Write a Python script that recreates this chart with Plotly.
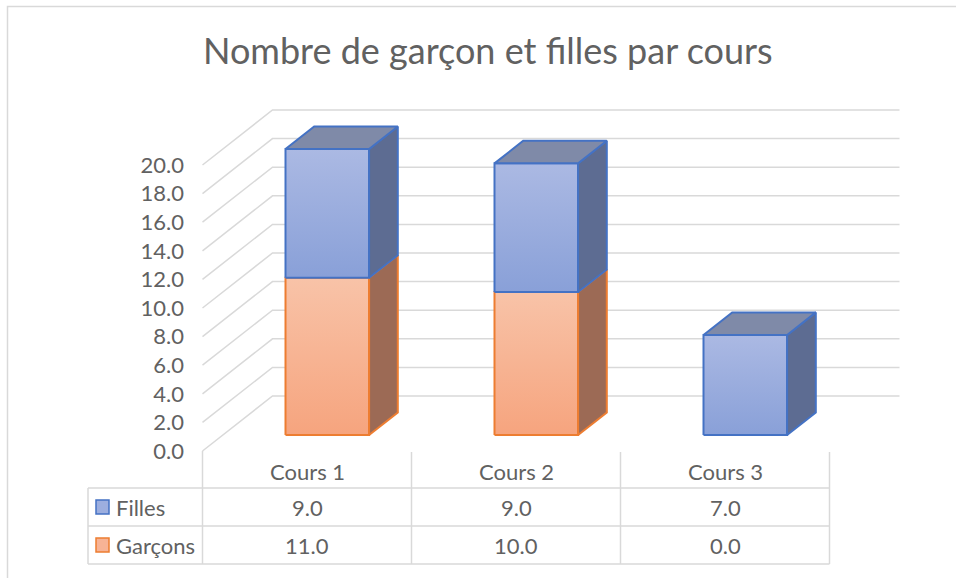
import plotly.graph_objects as go

# ---------------- data ----------------
categories = ["Cours 1", "Cours 2", "Cours 3"]
garcons = [11.0, 10.0, 0.0]
filles = [9.0, 9.0, 7.0]
y_ticks = [0, 2, 4, 6, 8, 10, 12, 14, 16, 18, 20]
title_text = "Nombre de garçon et filles par cours"

# ---------------- geometry / style ----------------
W, H = 956, 578
CAT_PX = 209.0      # width of one category in pixels
X0_PX = 202.5       # left edge of front floor in pixels
Y0_PX = 451.0       # value 0 on the front plane in pixels
VAL_PX = 14.3       # pixels per value unit
DX = 70.0 / CAT_PX  # full depth offset in x (category units)
DY = 55.0 / VAL_PX  # full depth offset in y (value units)
D0, D1 = 0.29, 0.70 # bar depth extent (fraction of floor depth)
BAR_W = 0.40

FONT = "Lato"
TXT = "#616161"
GRID = "#d9d9d9"

x_range = [-0.5 - X0_PX / CAT_PX, -0.5 - X0_PX / CAT_PX + W / CAT_PX]
y_range = [-(H - Y0_PX) / VAL_PX, Y0_PX / VAL_PX]


def pxx(p):
    return p / W


def pxy(p):
    return 1 - p / H


series = [
    dict(name="Garçons", values=garcons, edge="#ed7d31",
         front=("#f6a47e", "#f8c3a8"), key="#f7b395",
         side="#9c6a55", top="#a87a66"),
    dict(name="Filles", values=filles, edge="#4472c4",
         front=("#89a0d8", "#abb9e3"), key="#9caedf",
         side="#5d6c92", top="#7f8aa8"),
]

fig = go.Figure()

# ---------------- back wall gridlines ----------------
gx, gy = [], []
for v in y_ticks:
    gx += [-0.5, -0.5 + DX, len(categories) - 0.5 + DX, None]
    gy += [v, v + DY, v + DY, None]
fig.add_trace(go.Scatter(x=gx, y=gy, mode="lines",
                         line=dict(color=GRID, width=1.5),
                         hoverinfo="skip", showlegend=False))

# ---------------- 3D stacked columns ----------------
n_series = len(series)
for i, cat in enumerate(categories):
    last_nonzero = max([k for k in range(n_series) if series[k]["values"][i] > 0], default=-1)
    base = 0.0
    for k, s in enumerate(series):
        val = s["values"][i]
        b, t = base, base + val
        base = t
        if val <= 0:
            continue
        xl = i - BAR_W / 2 + D0 * DX
        xr = i + BAR_W / 2 + D0 * DX
        yb = b + D0 * DY
        yt = t + D0 * DY
        # front face
        fig.add_trace(go.Scatter(
            x=[xl, xr, xr, xl, xl], y=[yb, yb, yt, yt, yb],
            mode="lines", fill="toself",
            fillgradient=dict(type="vertical",
                              colorscale=[[0, s["front"][0]], [1, s["front"][1]]],
                              start=yb, stop=yt),
            line=dict(color=s["edge"], width=2),
            hoverinfo="skip", showlegend=False))
        # side face
        dxs = (D1 - D0) * DX
        dys = (D1 - D0) * DY
        fig.add_trace(go.Scatter(
            x=[xr, xr + dxs, xr + dxs, xr, xr],
            y=[yb, yb + dys, yt + dys, yt, yb],
            mode="lines", fill="toself", fillcolor=s["side"],
            line=dict(color=s["edge"], width=2),
            hoverinfo="skip", showlegend=False))
        # top face only for the top segment
        if k == last_nonzero:
            fig.add_trace(go.Scatter(
                x=[xl, xr, xr + dxs, xl + dxs, xl],
                y=[yt, yt, yt + dys, yt + dys, yt],
                mode="lines", fill="toself", fillcolor=s["top"],
                line=dict(color=s["edge"], width=2),
                hoverinfo="skip", showlegend=False))

# ---------------- data table ----------------
shapes = []
line_style = dict(color=GRID, width=1.5)
T_HEAD = 452
ROW_Y = [488, 526, 564]
LEFT = 88
n = len(categories)
for ry in ROW_Y:
    shapes.append(dict(type="line", xref="paper", yref="paper",
                       x0=pxx(LEFT), x1=pxx(X0_PX + n * CAT_PX),
                       y0=pxy(ry), y1=pxy(ry), line=line_style))
for j in range(n + 1):
    shapes.append(dict(type="line", xref="x", yref="paper",
                       x0=j - 0.5, x1=j - 0.5,
                       y0=pxy(T_HEAD if j > 0 else Y0_PX), y1=pxy(ROW_Y[-1]),
                       line=line_style))
shapes.append(dict(type="line", xref="paper", yref="paper",
                   x0=pxx(LEFT), x1=pxx(LEFT), y0=pxy(ROW_Y[0]), y1=pxy(ROW_Y[-1]),
                   line=line_style))
# chart frame (top and left edges visible)
shapes.append(dict(type="rect", xref="paper", yref="paper",
                   x0=pxx(7.5), x1=pxx(W + 20), y0=pxy(6.5), y1=pxy(H + 20),
                   line=dict(color=GRID, width=1.5)))

annotations = []
FS = 22
for i, cat in enumerate(categories):
    annotations.append(dict(x=i, xref="x", y=pxy(471), yref="paper",
                            text=cat, showarrow=False,
                            font=dict(family=FONT, size=FS, color=TXT),
                            xanchor="center", yanchor="middle"))

table_rows = [series[1], series[0]]  # Filles on top, Garçons below
row_centers = [507, 545]
for r, s in enumerate(table_rows):
    cy = row_centers[r]
    shapes.append(dict(type="rect", xref="paper", yref="paper",
                       x0=pxx(96), x1=pxx(109), y0=pxy(cy - 7), y1=pxy(cy + 7),
                       fillcolor=s["key"],
                       line=dict(color=s["edge"], width=1.5)))
    annotations.append(dict(x=pxx(114), xref="paper", y=pxy(cy), yref="paper",
                            text=s["name"], showarrow=False,
                            font=dict(family=FONT, size=FS, color=TXT),
                            xanchor="left", yanchor="middle"))
    for i, cat in enumerate(categories):
        annotations.append(dict(x=i, xref="x", y=pxy(cy), yref="paper",
                                text=f"{s['values'][i]:.1f}", showarrow=False,
                                font=dict(family=FONT, size=FS, color=TXT),
                                xanchor="center", yanchor="middle"))

# title
annotations.append(dict(x=pxx(488), xref="paper", y=pxy(50), yref="paper",
                        text=title_text, showarrow=False,
                        font=dict(family=FONT, size=36, color=TXT),
                        xanchor="center", yanchor="middle"))

fig.update_layout(
    width=W, height=H,
    margin=dict(l=0, r=0, t=0, b=0),
    paper_bgcolor="white", plot_bgcolor="white",
    showlegend=False,
    xaxis=dict(range=x_range, visible=False, fixedrange=True),
    yaxis=dict(range=y_range, tickvals=y_ticks, tickformat=".1f",
               showgrid=False, zeroline=False, showline=False, ticks="",
               anchor="free", position=pxx(184),
               tickfont=dict(family=FONT, size=FS, color=TXT),
               fixedrange=True),
    shapes=shapes,
    annotations=annotations,
)

fig.write_html("out.html", config={"displayModeBar": False},
               post_script="document.body.style.margin='0';")
